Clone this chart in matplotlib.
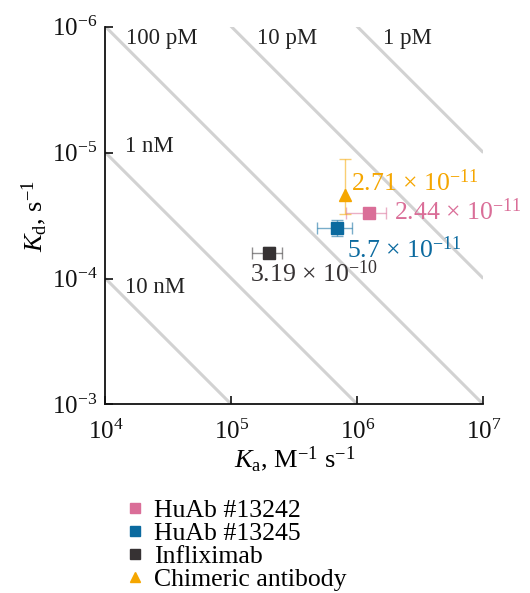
import matplotlib
matplotlib.use("Agg")
import matplotlib.pyplot as plt
import numpy as np

plt.rcParams['font.family'] = ['Liberation Serif', 'DejaVu Serif']
plt.rcParams['mathtext.fontset'] = 'custom'
plt.rcParams['mathtext.rm'] = 'Liberation Serif'
plt.rcParams['mathtext.it'] = 'Liberation Serif:italic'
plt.rcParams['mathtext.bf'] = 'Liberation Serif:bold'

# Iso-affinity lines (KD = kd / ka), M
kd_lines = [1e-12, 1e-11, 1e-10, 1e-9, 1e-8]
kd_line_labels = ["1 pM", "10 pM", "100 pM", "1 nM", "10 nM"]

# Samples
names = ["HuAb #13242", "HuAb #13245", "Infliximab", "Chimeric antibody"]
ka = [1.24e6, 6.9e5, 2.0e5, 8.0e5]
kd = [3.04e-5, 4.0e-5, 6.3e-5, 2.17e-5]
ka_lo = [8.1e5, 4.75e5, 1.45e5, 8.0e5]
ka_hi = [1.68e6, 9.1e5, 2.52e5, 8.0e5]
kd_lo = [2.9e-5, 3.43e-5, 5.6e-5, 1.13e-5]
kd_hi = [3.2e-5, 4.6e-5, 6.9e-5, 3.08e-5]
KD_text = ["2.44 × 10$^{-11}$", "5.7 × 10$^{-11}$",
           "3.19 × 10$^{-10}$", "2.71 × 10$^{-11}$"]
colors = ["#DA6E98", "#0B6A9F", "#363233", "#F5A600"]
markers = ["s", "s", "s", "^"]

fig = plt.figure(figsize=(5.30, 5.93), dpi=100)
ax = fig.add_axes([0.199, 0.318, 0.713, 0.637])

x_line = np.logspace(4, 7, 200)
for KD in kd_lines:
    ax.plot(x_line, KD * x_line, color="#D2D2D2", lw=2.2, zorder=1,
            solid_capstyle='butt')

# labels for iso-affinity lines (axes fraction positions)
line_label_pos = {"100 pM": (0.055, 0.968), "10 pM": (0.40, 0.968),
                  "1 pM": (0.735, 0.968), "1 nM": (0.052, 0.684),
                  "10 nM": (0.052, 0.31)}
for lab, (px, py) in line_label_pos.items():
    ax.text(px, py, lab, transform=ax.transAxes, fontsize=16.5,
            ha='left', va='center', color='#222222')

handles = []
for i in range(len(names)):
    xerr = [[ka[i] - ka_lo[i]], [ka_hi[i] - ka[i]]]
    yerr = [[kd[i] - kd_lo[i]], [kd_hi[i] - kd[i]]]
    ax.errorbar([ka[i]], [kd[i]], xerr=xerr, yerr=yerr, fmt='none',
                ecolor=colors[i], alpha=0.55, elinewidth=1.0, capsize=4,
                capthick=1.0, zorder=3)
    h, = ax.plot([ka[i]], [kd[i]], linestyle='none', marker=markers[i],
                 color=colors[i], markersize=8, zorder=4, label=names[i])
    handles.append(h)

text_offsets = [(18, 1), (7, -15), (-14, -15), (4, 9)]
for i in range(len(names)):
    ax.annotate(KD_text[i], xy=(ka[i], kd[i]), xytext=text_offsets[i],
                textcoords='offset points', fontsize=18.5, color=colors[i],
                ha='left', va='center', zorder=5)

ax.set_xscale('log')
ax.set_yscale('log')
ax.set_xlim(1e4, 1e7)
ax.set_ylim(1e-3, 1e-6)
ax.set_xticks([1e4, 1e5, 1e6, 1e7])
ax.set_yticks([1e-6, 1e-5, 1e-4, 1e-3])
ax.minorticks_off()
ax.tick_params(direction='in', length=6, width=1.2, labelsize=18,
               colors='#111111')
ax.tick_params(axis='x', pad=11)
ax.tick_params(axis='y', pad=6)
for s in ['top', 'right']:
    ax.spines[s].set_visible(False)
for s in ['left', 'bottom']:
    ax.spines[s].set_linewidth(1.3)
    ax.spines[s].set_color('#111111')

ax.set_xlabel(r"$K_\mathrm{a}$, M$^{-1}$ s$^{-1}$", fontsize=19, labelpad=0)
ax.set_ylabel(r"$K_\mathrm{d}$, s$^{-1}$", fontsize=19, labelpad=2)

fig.legend(handles=handles, loc='upper left', bbox_to_anchor=(0.235, 0.158),
           frameon=False, fontsize=18.5, handlelength=0.8, handletextpad=0.35,
           labelspacing=0.0, borderpad=0.0, borderaxespad=0.0,
           markerscale=0.95)

fig.savefig("out.png", dpi=100)
